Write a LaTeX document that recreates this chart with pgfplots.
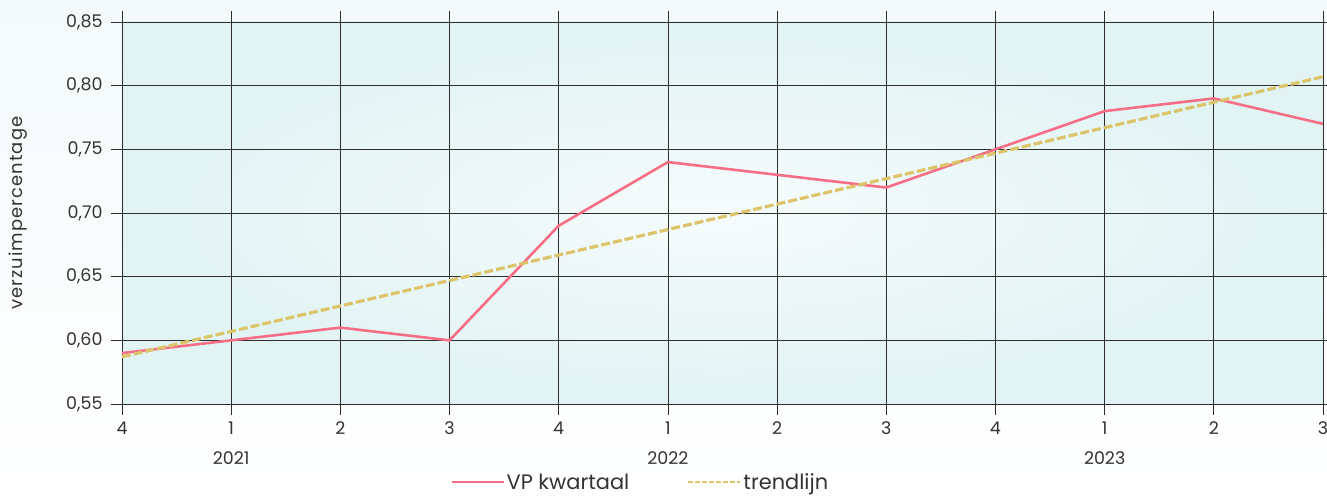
\documentclass[border=0pt]{standalone}
\usepackage{pgfplots}
\pgfplotsset{compat=1.18}
\usepackage{fontspec}
\setmainfont{Poppins}
\definecolor{vpcol}{HTML}{F56E86}
\definecolor{trendcol}{HTML}{DCC46A}
\definecolor{bgedge}{HTML}{E1F3F3}
\definecolor{pagebg}{HTML}{F4FAFB}
\definecolor{gridcol}{HTML}{2E2E2E}
\definecolor{txt}{HTML}{333333}
\begin{document}
\begin{tikzpicture}[x=1bp,y=1bp]
  % light page background behind the whole chart
  \shade[top color=pagebg, bottom color=white] (-122bp,-91bp) rectangle (1205bp,404bp);
  \begin{axis}[name=ax, at={(0,0)}, anchor=south west,
      scale only axis, width=1201bp, height=382bp,
      xmin=0, xmax=11, ymin=0.55, ymax=0.85,
      xtick={0,...,11}, xticklabels={4,1,2,3,4,1,2,3,4,1,2,3},
      ytick={0.55,0.60,...,0.86},
      grid=major, major grid style={gridcol, line width=0.8pt},
      axis line style={gridcol, line width=0.9pt},
      tick align=outside, tick style={gridcol, line width=0.8pt},
      major tick length=11bp,
      tick label style={font=\fontsize{17.5}{20}\selectfont, text=txt},
      xticklabel style={yshift=-3bp},
      yticklabel style={xshift=-5bp},
      /pgf/number format/.cd, fixed, fixed zerofill, precision=2, use comma, assume math mode=true,
      /pgfplots/.cd,
      ylabel={verzuimpercentage},
      ylabel style={font=\fontsize{18}{20}\selectfont\addfontfeatures{LetterSpace=6}, text=txt, at={(axis description cs:-0.076,0.5)}},
      axis background/.style={shade, inner color=white!70!bgedge, outer color=bgedge},
      legend style={draw=none, fill=none, at={(0.271,-0.205)}, anchor=west,
        font=\fontsize{21}{24}\selectfont, text=txt,
        legend columns=2, /tikz/every even column/.append style={column sep=56bp}},
      legend image code/.code={\draw[#1, line width=2pt] (0bp,0bp) -- (52bp,0bp);},
      clip=false,
    ]
    \addplot[vpcol, line width=2.6pt] coordinates {
      (0,0.59) (1,0.60) (2,0.61) (3,0.60) (4,0.69) (5,0.74)
      (6,0.73) (7,0.72) (8,0.75) (9,0.78) (10,0.79) (11,0.77)
    };
    \addlegendentry{VP kwartaal}
    \addplot[trendcol, line width=3.2pt, dash pattern=on 9bp off 3bp,
      forget plot] coordinates {
      (0,0.587) (1,0.607) (2,0.627) (3,0.647) (4,0.667) (5,0.687)
      (6,0.707) (7,0.727) (8,0.747) (9,0.767) (10,0.787) (11,0.807)
    };
    \addlegendimage{trendcol, dash pattern=on 5bp off 2bp}
    \addlegendentry{trendlijn}
    \node[font=\fontsize{17.5}{20}\selectfont, text=txt] at (axis cs:1,0.55) [yshift=-54bp] {2021};
    \node[font=\fontsize{17.5}{20}\selectfont, text=txt] at (axis cs:5,0.55) [yshift=-54bp] {2022};
    \node[font=\fontsize{17.5}{20}\selectfont, text=txt] at (axis cs:9,0.55) [yshift=-54bp] {2023};
  \end{axis}
  \pgfresetboundingbox
  \path (ax.south west) ++(-122bp,-91bp) coordinate (bl);
  \path (ax.north east) ++(4bp,22bp) coordinate (tr);
  \path[use as bounding box] (bl) rectangle (tr);
\end{tikzpicture}
\end{document}
